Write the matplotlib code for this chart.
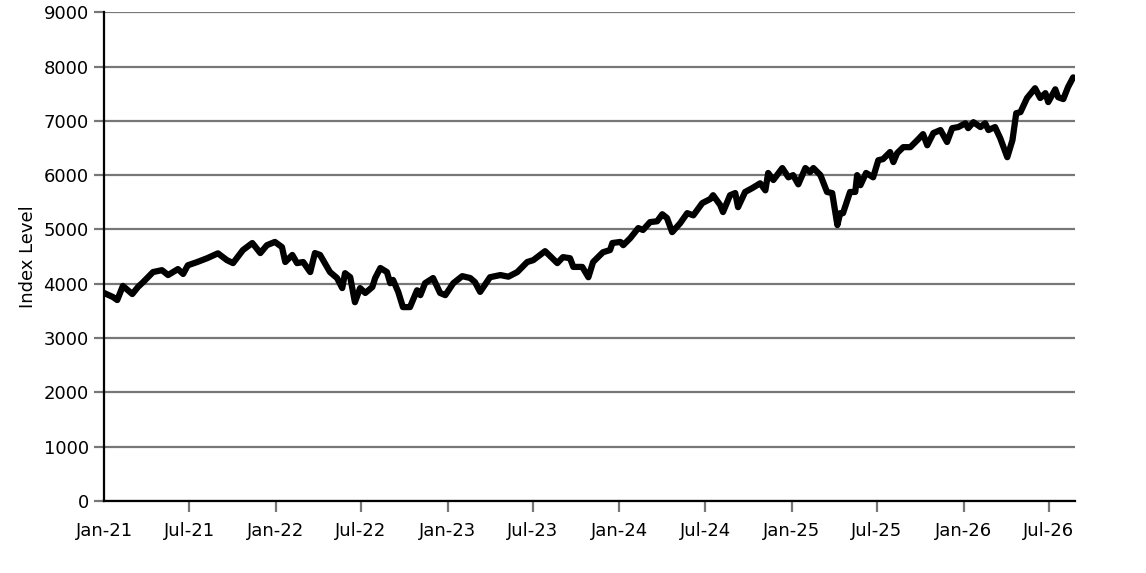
import numpy as np
import pandas as pd
import matplotlib
matplotlib.use("Agg")
import matplotlib.pyplot as plt
import matplotlib.dates as mdates

# values
dates = [
    "2021-01-01", "2021-01-20", "2021-01-29", "2021-02-10", "2021-03-02", "2021-03-14",
    "2021-03-25", "2021-04-15", "2021-05-04", "2021-05-17", "2021-06-07", "2021-06-18",
    "2021-06-28", "2021-07-18", "2021-08-08", "2021-08-31", "2021-09-19", "2021-10-02",
    "2021-10-23", "2021-11-12", "2021-11-29", "2021-12-13", "2021-12-30", "2022-01-14",
    "2022-01-21", "2022-02-05", "2022-02-15", "2022-02-28", "2022-03-15", "2022-03-25",
    "2022-04-05", "2022-04-26", "2022-05-11", "2022-05-22", "2022-05-28", "2022-06-08",
    "2022-06-18", "2022-06-29", "2022-07-10", "2022-07-25", "2022-07-31", "2022-08-11",
    "2022-08-25", "2022-09-01", "2022-09-07", "2022-09-18", "2022-09-28", "2022-10-13",
    "2022-10-28", "2022-11-04", "2022-11-14", "2022-12-01", "2022-12-16", "2022-12-27",
    "2023-01-13", "2023-02-01", "2023-02-18", "2023-02-28", "2023-03-11", "2023-04-01",
    "2023-04-23", "2023-05-10", "2023-05-29", "2023-06-19", "2023-07-02", "2023-07-27",
    "2023-08-22", "2023-09-03", "2023-09-18", "2023-09-25", "2023-10-14", "2023-10-27",
    "2023-11-06", "2023-11-27", "2023-12-12", "2023-12-17", "2024-01-03", "2024-01-09",
    "2024-01-24", "2024-02-10", "2024-02-20", "2024-03-06", "2024-03-21", "2024-04-01",
    "2024-04-11", "2024-04-22", "2024-05-09", "2024-05-24", "2024-06-06", "2024-06-25",
    "2024-07-12", "2024-07-18", "2024-08-02", "2024-08-08", "2024-08-23", "2024-09-03",
    "2024-09-09", "2024-09-24", "2024-10-09", "2024-10-26", "2024-11-06", "2024-11-12",
    "2024-11-23", "2024-12-12", "2024-12-25", "2025-01-04", "2025-01-15", "2025-01-30",
    "2025-02-09", "2025-02-16", "2025-03-03", "2025-03-17", "2025-03-28", "2025-04-08",
    "2025-04-14", "2025-04-20", "2025-05-05", "2025-05-16", "2025-05-20", "2025-05-27",
    "2025-06-08", "2025-06-23", "2025-07-04", "2025-07-14", "2025-07-29", "2025-08-05",
    "2025-08-13", "2025-08-26", "2025-09-10", "2025-09-25", "2025-10-07", "2025-10-16",
    "2025-10-29", "2025-11-13", "2025-11-27", "2025-12-08", "2025-12-21", "2026-01-05",
    "2026-01-11", "2026-01-22", "2026-02-06", "2026-02-16", "2026-02-23", "2026-03-09",
    "2026-03-20", "2026-04-04", "2026-04-15", "2026-04-23", "2026-05-02", "2026-05-16",
    "2026-06-02", "2026-06-13", "2026-06-24", "2026-06-30", "2026-07-15", "2026-07-21",
    "2026-08-01", "2026-08-11", "2026-08-22",
]
index_level = [
    3830, 3755, 3700, 3960, 3810, 3940,
    4030, 4215, 4250, 4160, 4270, 4180,
    4340, 4400, 4470, 4560, 4435, 4380,
    4620, 4750, 4565, 4710, 4770, 4675,
    4400, 4530, 4380, 4400, 4215, 4565,
    4530, 4215, 4105, 3920, 4195, 4120,
    3660, 3920, 3830, 3940, 4105, 4290,
    4215, 4010, 4070, 3850, 3570, 3570,
    3880, 3790, 4010, 4105, 3830, 3790,
    4010, 4140, 4105, 4030, 3850, 4120,
    4160, 4130, 4215, 4400, 4435, 4600,
    4380, 4490, 4470, 4310, 4310, 4120,
    4400, 4580, 4620, 4750, 4770, 4710,
    4840, 5025, 4990, 5135, 5150, 5280,
    5210, 4950, 5115, 5300, 5260, 5485,
    5560, 5630, 5450, 5320, 5630, 5670,
    5410, 5690, 5760, 5850, 5720, 6040,
    5910, 6130, 5960, 6000, 5830, 6130,
    6055, 6130, 6000, 5690, 5670, 5080,
    5300, 5300, 5690, 5690, 6000, 5815,
    6040, 5960, 6275, 6295, 6425, 6240,
    6405, 6515, 6515, 6645, 6755, 6550,
    6775, 6830, 6610, 6865, 6885, 6955,
    6865, 6975, 6885, 6955, 6830, 6885,
    6680, 6330, 6645, 7140, 7160, 7420,
    7600, 7420, 7510, 7345, 7580, 7435,
    7400, 7620, 7800,
]
tick_dates = ["2021-01-01", "2021-07-01", "2022-01-01", "2022-07-01", "2023-01-01",
              "2023-07-01", "2024-01-01", "2024-07-01", "2025-01-01", "2025-07-01",
              "2026-01-01", "2026-07-01"]
y_ticks = [0, 1000, 2000, 3000, 4000, 5000, 6000, 7000, 8000, 9000]

df = pd.DataFrame({"date": pd.to_datetime(dates), "level": index_level})

fig = plt.figure(figsize=(11.46, 5.73), dpi=100)
ax = fig.add_axes([0.0908, 0.1257, 0.8473, 0.853])

ax.yaxis.grid(True, color="#777777", linewidth=1.6)
ax.set_axisbelow(True)
ax.plot(df.date, df.level, color="black", linewidth=4.5, solid_joinstyle="round",
        solid_capstyle="round")

ax.set_ylim(0, 9000)
ax.set_yticks(y_ticks)
ax.set_xlim(pd.Timestamp("2021-01-01"), pd.Timestamp("2026-08-26"))
ax.set_xticks(pd.to_datetime(tick_dates))
ax.xaxis.set_major_formatter(mdates.DateFormatter("%b-%y"))

for s in ["top", "right"]:
    ax.spines[s].set_visible(False)
for s in ["left", "bottom"]:
    ax.spines[s].set_linewidth(1.6)
    ax.spines[s].set_color("black")

ax.tick_params(axis="x", direction="out", length=8, width=1.6, color="#777777",
               labelsize=13, pad=7)
ax.tick_params(axis="y", direction="out", length=7, width=1.6, color="#777777",
               labelsize=13, pad=4)
# first x tick mark sits on the y spine and isn't visible in the original
ax.xaxis.get_major_ticks()[0].tick1line.set_visible(False)
ax.set_ylabel("Index Level", fontsize=13, labelpad=5)

fig.savefig("out.png", dpi=100)
